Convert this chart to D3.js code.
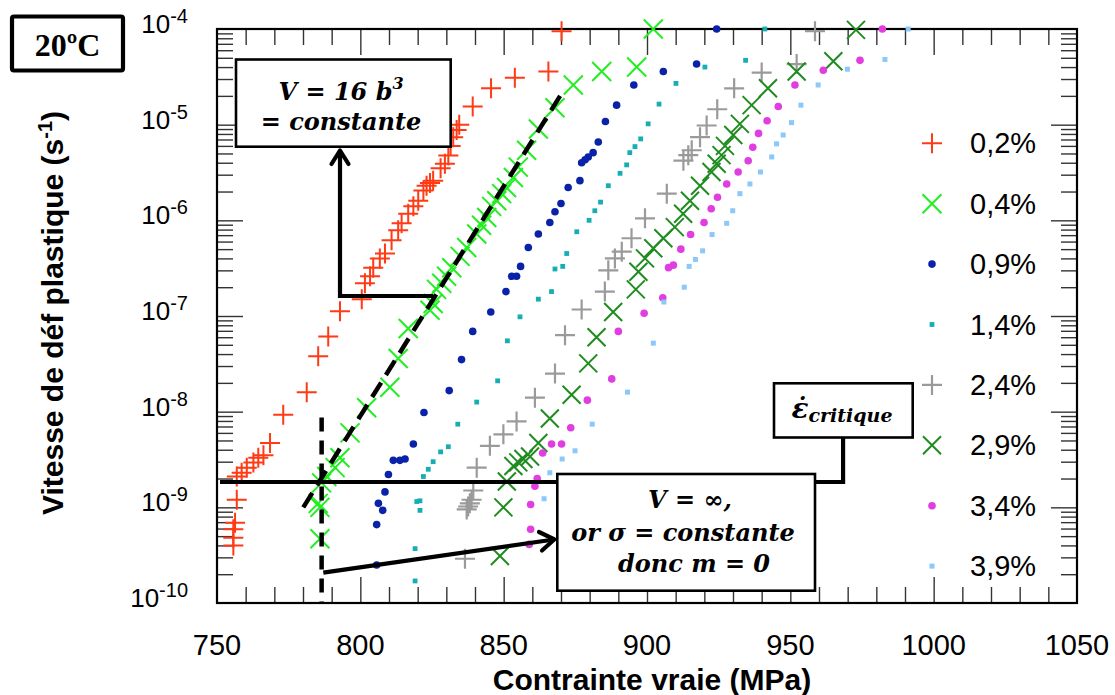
<!DOCTYPE html>
<html><head><meta charset="utf-8">
<script src="https://cdn.jsdelivr.net/npm/d3@7"></script>
<style>body{margin:0;background:#fff}svg{display:block}</style>
</head><body>
<svg id="c" width="1115" height="695"></svg>
<script>
// ---------------- DATA ----------------
const xTickLabels = [750, 800, 850, 900, 950, 1000, 1050];
const yTickValues = [1e-10, 1e-9, 1e-8, 1e-7, 1e-6, 1e-5, 1e-4];
const yTickExponents = ["-10", "-9", "-8", "-7", "-6", "-5", "-4"];
const seriesNames = ["0,2%", "0,4%", "0,9%", "1,4%", "2,4%", "2,9%", "3,4%", "3,9%"];

const s02_stress = [870.2,865.6,853.9,845.6,839.2,834.5,833.6,832.4,831.5,830.7,829.5,828.0,825.4,824.3,823.1,822.0,820.2,818.5,816.7,814.4,813.2,810.9,808.6,806.8,804.5,803.4,801.6,800.5,792.9,788.8,785.3,781.3,773.1,768.5,766.2,764.4,762.7,760.4,758.6,756.9,756.9,756.3,755.7,755.7,755.7];
const s02_rate = [9.5e-5,3.6e-5,3.1e-5,2.4e-5,1.55e-5,1.0e-5,8.8e-6,7.4e-6,6.0e-6,4.75e-6,3.9e-6,3.5e-6,2.6e-6,2.45e-6,2.3e-6,2.05e-6,1.6e-6,1.4e-6,1.17e-6,9.3e-7,7.9e-7,6.2e-7,4.5e-7,4.0e-7,3.2e-7,2.6e-7,2.2e-7,1.5e-7,1.12e-7,6.1e-8,3.8e-8,1.6e-8,9.3e-9,4.7e-9,3.5e-9,3.3e-9,2.95e-9,2.6e-9,2.3e-9,2.1e-9,1.2e-9,6.9e-10,5.9e-10,4.8e-10,4.0e-10];

const s04_stress = [902.2,896.4,884.2,874.3,867.9,862.1,858.0,855.1,853.4,851.0,849.3,847.6,845.8,844.1,842.3,840.6,837.1,834.8,831.9,830.1,828.4,826.6,825.4,824.3,816.7,813.2,810.3,802.2,796.4,792.9,791.2,788.3,786.5,785.3,785.9,785.9];
const s04_rate = [1.0e-4,4.0e-5,3.6e-5,2.6e-5,1.5e-5,9.0e-6,5.4e-6,3.6e-6,2.8e-6,2.2e-6,1.9e-6,1.6e-6,1.4e-6,1.07e-6,8.9e-7,7.2e-7,5.2e-7,4.2e-7,3.2e-7,2.6e-7,2.2e-7,1.9e-7,1.35e-7,1.15e-7,7.4e-8,3.6e-8,1.8e-8,1.1e-8,6.0e-9,3.3e-9,2.6e-9,2.1e-9,1.8e-9,1.1e-9,1.0e-9,4.7e-10];

const s09_stress = [924.3,917.3,905.7,895.4,889.4,885.5,883.0,881.2,879.5,878.4,877.2,876.6,872.5,870.0,867.9,866.1,862.1,858.6,855.9,854.5,852.8,850.8,845.5,839.2,835.3,831.0,822.2,818.5,815.6,813.8,811.5,809.8,808.6,806.3,807.8,805.7,805.7];
const s09_rate = [1.0e-4,4.3e-5,3.6e-5,2.6e-5,1.6e-5,1.08e-5,6.6e-6,5.1e-6,4.6e-6,4.3e-6,4.0e-6,2.6e-6,2.2e-6,1.5e-6,1.23e-6,9.5e-7,7.2e-7,5.2e-7,3.3e-7,2.6e-7,2.6e-7,1.8e-7,1.1e-7,6.9e-8,3.5e-8,1.66e-8,9.8e-9,4.6e-9,3.2e-9,3.1e-9,3.1e-9,2.2e-9,1.45e-9,1.1e-9,9.3e-10,6.6e-10,2.5e-10];

const s14_stress = [941.1,934.4,920.2,910.1,904.2,900.4,897.8,895.8,894.0,892.9,890.6,886.5,883.8,881.8,879.8,875.5,872.0,870.6,867.9,866.7,862.1,855.7,851.3,847.9,840.6,834.0,830.7,828.0,825.4,823.7,822.0,820.8,819.7,820.8,819.1,819.1];
const s14_rate = [1.0e-4,4.7e-5,4.0e-5,2.7e-5,1.64e-5,1.02e-5,7.1e-6,5.9e-6,5.1e-6,3.8e-6,3.1e-6,2.3e-6,1.55e-6,1.26e-6,1.0e-6,7.6e-7,4.5e-7,3.3e-7,3.1e-7,1.8e-7,1.5e-7,9.8e-8,5.5e-8,2.1e-8,1.26e-8,7.4e-9,4.3e-9,3.8e-9,3.0e-9,2.5e-9,2.1e-9,1.17e-9,1.15e-9,9.3e-10,3.7e-10,1.7e-10];

const s24_stress = [958.6,952.2,940.0,930.4,924.5,920.8,918.5,915.6,914.4,912.7,906.9,899.3,894.6,891.2,888.8,886.5,885.3,877.2,871.4,867.9,860.9,854.5,849.9,845.2,840.6,839.4,838.8,838.2,837.6,837.1,836.5];
const s24_rate = [9.5e-5,4.3e-5,3.5e-5,2.4e-5,1.45e-5,9.8e-6,7.4e-6,5.4e-6,4.8e-6,4.2e-6,1.9e-6,1.05e-6,6.5e-7,4.7e-7,4.0e-7,3.0e-7,1.8e-7,1.17e-7,6.3e-8,2.5e-8,1.4e-8,7.9e-9,5.8e-9,4.4e-9,2.6e-9,1.5e-9,1.2e-9,1.1e-9,1.02e-9,9.5e-10,2.9e-10];

const s29_stress = [972.9,965.0,952.2,942.2,936.5,932.4,930.1,927.2,926.0,924.3,922.5,918.5,915.0,912.6,909.7,905.7,902.2,899.3,897.0,896.1,888.2,882.4,879.5,873.7,866.1,862.1,859.2,856.9,855.1,853.4,851.1,849.9,848.7];
const s29_rate = [9.8e-5,4.6e-5,3.6e-5,2.4e-5,1.6e-5,1.02e-5,7.8e-6,6.0e-6,4.8e-6,3.9e-6,3.2e-6,2.3e-6,1.6e-6,1.17e-6,8.5e-7,6.5e-7,5.1e-7,4.0e-7,2.9e-7,1.9e-7,1.1e-7,6.0e-8,3.2e-8,1.5e-8,8.5e-9,4.7e-9,3.4e-9,3.2e-9,2.95e-9,2.7e-9,1.86e-9,1.0e-9,3.1e-10];

const s34_stress = [982.1,974.3,961.5,951.6,945.8,941.9,938.9,936.9,935.3,931.8,927.8,924.6,922.4,919.9,915.2,911.8,909.2,907.5,905.5,899.0,890.0,887.7,879.2,873.4,870.2,866.7,863.6,861.7,860.9,859.4,859.4,858.9];
const s34_rate = [1.0e-4,4.7e-5,3.7e-5,2.6e-5,1.55e-5,1.1e-5,8.1e-6,5.8e-6,4.2e-6,3.2e-6,2.4e-6,1.74e-6,1.32e-6,9.5e-7,7.1e-7,5.0e-7,3.4e-7,3.2e-7,1.55e-7,1.07e-7,6.9e-8,2.2e-8,1.32e-8,6.8e-9,4.6e-9,4.6e-9,3.7e-9,2.0e-9,1.66e-9,1.07e-9,5.9e-10,4.1e-10];

const s39_stress = [991.1,983.0,969.9,959.7,953.7,950.4,947.5,945.2,943.5,939.6,935.9,932.4,929.9,927.8,922.7,919.4,916.9,914.7,913.0,905.9,902.2,893.2,880.9,874.9,870.4,866.1,864.1];
const s39_rate = [1.0e-4,4.8e-5,3.8e-5,2.6e-5,1.6e-5,1.05e-5,7.8e-6,6.3e-6,4.6e-6,3.2e-6,2.4e-6,1.9e-6,1.26e-6,9.3e-7,7.1e-7,4.8e-7,3.9e-7,3.3e-7,2.0e-7,1.4e-7,5.2e-8,1.6e-8,7.4e-9,3.9e-9,3.2e-9,2.3e-9,1.23e-9];

// annotation values (data space)
const criticalRate = 1.84e-9;
const criticalLineEnd = 968.4;
const slopeLine = [[780.1, 1.0e-9], [870.8, 2.26e-5]];
const infiniteVStress = 786.5;
const infiniteVTop = 8.7e-9;

// ---------------- CHART ----------------
const W = 1115, H = 695;
const L = 217, R = 1077, T = 29, B = 603;
const x = d3.scaleLinear().domain([750, 1050]).range([L, R]);
const y = d3.scaleLog().domain([1e-10, 1e-4]).range([B, T]);
const svg = d3.select("#c");
svg.append("rect").attr("width", W).attr("height", H).attr("fill", "#fff");

const SANS = "'Liberation Sans', Arial, Helvetica, sans-serif";
const SERIF = "'Liberation Serif', 'Times New Roman', serif";
const MATH = "'DejaVu Serif', serif";

// ticks
const xMajor = xTickLabels.filter(v => v > 750 && v < 1050);
const xMinor = d3.range(760, 1050, 10).filter(v => v % 50 !== 0);
const yMajor = yTickValues.filter(v => v > 1e-10 && v < 1e-4);
const yMinor = [];
for (let e = -10; e < -4; e++) for (let k = 2; k <= 9; k++) yMinor.push(k * Math.pow(10, e));

function ticks(make, tr, vals, size) {
  const g = svg.append("g").attr("transform", tr)
    .call(make().tickValues(vals).tickSize(-size).tickFormat(""));
  g.select(".domain").remove();
  g.selectAll("line").attr("stroke", "#333").attr("stroke-width", 1.4);
}
ticks(() => d3.axisBottom(x), `translate(0,${B})`, xMinor, 16);
ticks(() => d3.axisBottom(x), `translate(0,${B})`, xMajor, 26);
ticks(() => d3.axisTop(x), `translate(0,${T})`, xMinor, 16);
ticks(() => d3.axisTop(x), `translate(0,${T})`, xMajor, 26);
ticks(() => d3.axisLeft(y), `translate(${L},0)`, yMinor, 16);
ticks(() => d3.axisLeft(y), `translate(${L},0)`, yMajor, 26);
ticks(() => d3.axisRight(y), `translate(${R},0)`, yMinor, 16);
ticks(() => d3.axisRight(y), `translate(${R},0)`, yMajor, 26);

svg.append("rect").attr("x", L).attr("y", T).attr("width", R - L).attr("height", B - T)
  .attr("fill", "none").attr("stroke", "#000").attr("stroke-width", 2.2);

// tick labels
svg.append("g").selectAll("text").data(xTickLabels).join("text")
  .attr("x", d => x(d)).attr("y", 655).attr("text-anchor", "middle")
  .attr("font-family", SANS).attr("font-size", 29).attr("fill", "#000").text(d => d);

const yl = svg.append("g").selectAll("text").data(yTickValues).join("text")
  .attr("x", 188).attr("y", d => y(d) + 4).attr("text-anchor", "end")
  .attr("font-family", SANS).attr("font-size", 26).attr("fill", "#000");
yl.append("tspan").text("10");
yl.append("tspan").attr("font-size", 20).attr("dy", -10).text((d, i) => yTickExponents[i]);

// axis titles
svg.append("text").attr("x", 652).attr("y", 690).attr("text-anchor", "middle")
  .attr("font-family", SANS).attr("font-weight", "bold").attr("font-size", 30)
  .text("Contrainte vraie (MPa)");
const yt = svg.append("text").attr("transform", "translate(63,313) rotate(-90)")
  .attr("text-anchor", "middle").attr("font-family", SANS).attr("font-weight", "bold").attr("font-size", 30);
yt.append("tspan").text("Vitesse de déf plastique (s");
yt.append("tspan").attr("font-size", 20).attr("dy", -11).text("-1");
yt.append("tspan").attr("dy", 11).text(")");

// markers
const plusPath = s => `M${-s},0H${s}M0,${-s}V${s}`;
const crossPath = s => `M${-s},${-s}L${s},${s}M${-s},${s}L${s},${-s}`;
const styles = [
  { type: "plus", color: "#ff3a14", size: 10, sw: 2 },
  { type: "cross", color: "#22ee22", size: 9.5, sw: 2 },
  { type: "dot", color: "#0a22a8", r: 3.8 },
  { type: "square", color: "#16aeb4", s: 4.8 },
  { type: "plus", color: "#9a9a9a", size: 10, sw: 2.2 },
  { type: "cross", color: "#1f8c1f", size: 9, sw: 2 },
  { type: "dot", color: "#e03ee0", r: 3.8 },
  { type: "square", color: "#8cc8fa", s: 5 }
];
const seriesData = [
  [s02_stress, s02_rate], [s04_stress, s04_rate], [s09_stress, s09_rate], [s14_stress, s14_rate],
  [s24_stress, s24_rate], [s29_stress, s29_rate], [s34_stress, s34_rate], [s39_stress, s39_rate]
];
function drawMarker(sel, st) {
  if (st.type === "plus") sel.append("path").attr("d", plusPath(st.size)).attr("stroke", st.color).attr("stroke-width", st.sw).attr("fill", "none");
  else if (st.type === "cross") sel.append("path").attr("d", crossPath(st.size)).attr("stroke", st.color).attr("stroke-width", st.sw).attr("fill", "none");
  else if (st.type === "dot") sel.append("circle").attr("r", st.r).attr("fill", st.color);
  else sel.append("rect").attr("x", -st.s / 2).attr("y", -st.s / 2).attr("width", st.s).attr("height", st.s).attr("fill", st.color);
}
seriesData.forEach(([xs, ys], i) => {
  const pts = xs.map((v, j) => ({ x: v, y: ys[j] }));
  const g = svg.append("g");
  g.selectAll("g").data(pts).join("g")
    .attr("transform", d => `translate(${x(d.x)},${y(d.y)})`)
    .each(function () { drawMarker(d3.select(this), styles[i]); });
});

// legend
seriesNames.forEach((name, i) => {
  const cy = 143.3 + i * 60.4;
  const g = svg.append("g").attr("transform", `translate(932,${cy})`);
  drawMarker(g, styles[i]);
  svg.append("text").attr("x", 970).attr("y", cy + 10).attr("font-family", SANS)
    .attr("font-size", 29).attr("fill", "#000").text(name);
});

// annotation lines
const ann = svg.append("g");
ann.append("line").attr("x1", x(slopeLine[0][0])).attr("y1", y(slopeLine[0][1]))
  .attr("x2", x(slopeLine[1][0])).attr("y2", y(slopeLine[1][1]))
  .attr("stroke", "#000").attr("stroke-width", 4.5).attr("stroke-dasharray", "17,9");
ann.append("line").attr("x1", x(infiniteVStress)).attr("y1", y(infiniteVTop))
  .attr("x2", x(infiniteVStress)).attr("y2", B)
  .attr("stroke", "#000").attr("stroke-width", 4.5).attr("stroke-dasharray", "14,9");
ann.append("path")
  .attr("d", `M${x(750) + 3},${y(criticalRate)}H${x(criticalLineEnd)}V438`)
  .attr("fill", "none").attr("stroke", "#000").attr("stroke-width", 4.2);
// arrow to V=16b3 box
ann.append("path").attr("d", "M433,296H340V150").attr("fill", "none").attr("stroke", "#000").attr("stroke-width", 4.2);
ann.append("path").attr("d", "M331.5,164L340,150.5L348.5,164").attr("fill", "none").attr("stroke", "#000").attr("stroke-width", 4.2).attr("stroke-linecap", "round").attr("stroke-linejoin", "round");
// arrow to V=inf box
ann.append("path").attr("d", "M323.3,572.7L554,539.5").attr("fill", "none").attr("stroke", "#000").attr("stroke-width", 4.2);
ann.append("path").attr("d", "M539,532L554.5,539.3L542,550.5").attr("fill", "none").attr("stroke", "#000").attr("stroke-width", 4.2).attr("stroke-linecap", "round").attr("stroke-linejoin", "round");

function box(x0, y0, x1, y1, sw) {
  svg.append("rect").attr("x", x0).attr("y", y0).attr("width", x1 - x0).attr("height", y1 - y0)
    .attr("fill", "#fff").attr("stroke", "#000").attr("stroke-width", sw || 2.6);
}
function mtext(cx, by, size) {
  return svg.append("text").attr("x", cx).attr("y", by).attr("text-anchor", "middle")
    .attr("font-family", MATH).attr("font-weight", "bold").attr("font-style", "italic").attr("font-size", size || 24);
}
// V = 16 b^3 box
box(236, 59.5, 450.7, 146.7);
const t1 = mtext(341, 99.5);
t1.append("tspan").text("V = 16 b");
t1.append("tspan").attr("font-size", 16).attr("dy", -11).text("3");
mtext(341, 130).text("= constante");
// V = inf box
box(557.3, 474, 815, 590.7);
mtext(690, 508).text("V =  ∞,");
mtext(683, 540.7).text("or σ = constante");
mtext(694, 571.7).text("donc m = 0");
// critical rate box
box(774, 383.3, 912.7, 437.5);
const t3 = mtext(842, 418, 28);
t3.append("tspan").text("ε\u0307");
t3.append("tspan").attr("font-size", 19).attr("dy", 4).text("critique");

// 20ºC box
svg.append("rect").attr("x", 12).attr("y", 16.5).attr("width", 111).attr("height", 54)
  .attr("rx", 2).attr("fill", "#fff").attr("stroke", "#000").attr("stroke-width", 4.2);
svg.append("text").attr("x", 67.5).attr("y", 56).attr("text-anchor", "middle")
  .attr("font-family", SERIF).attr("font-weight", "bold").attr("font-size", 32).text("20ºC");
</script>
</body></html>
